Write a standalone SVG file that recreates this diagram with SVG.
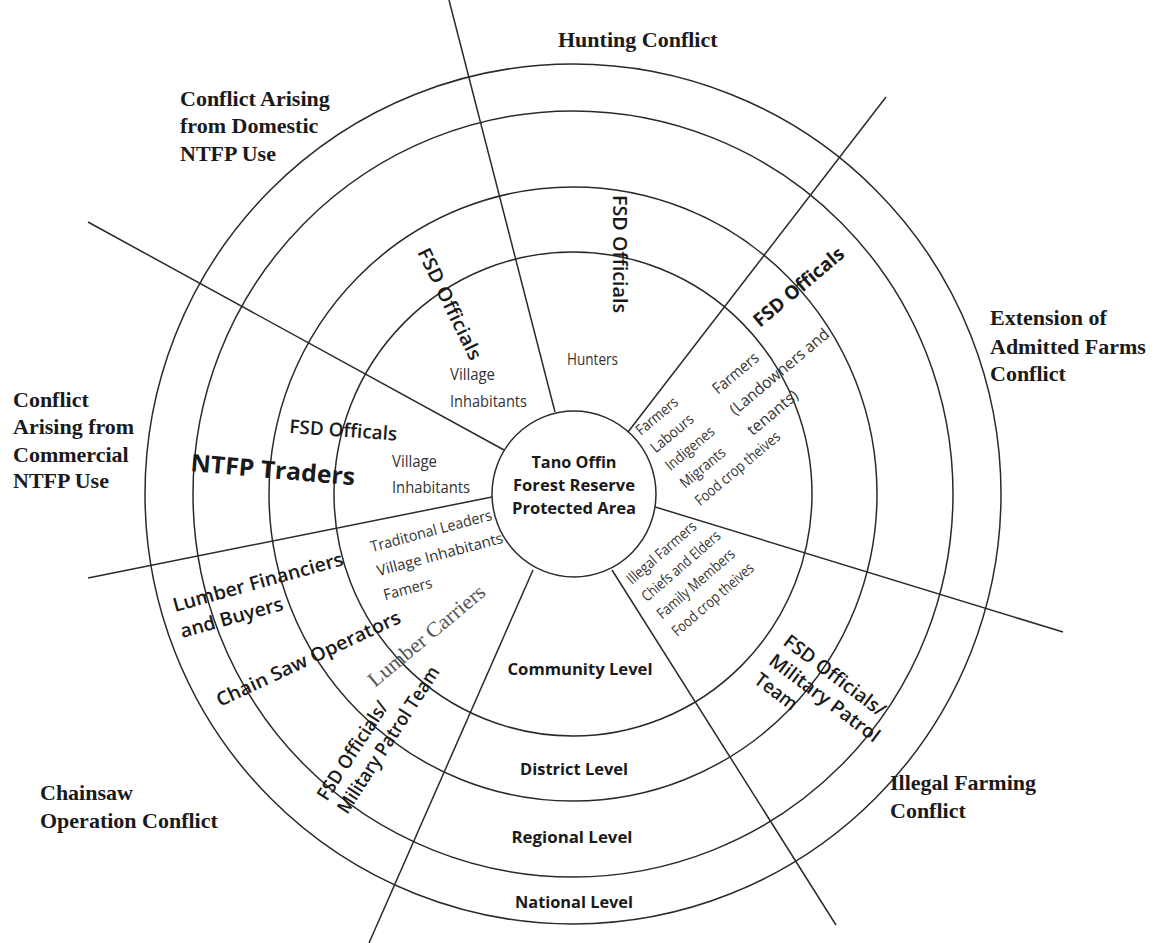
<svg xmlns="http://www.w3.org/2000/svg" width="1154" height="943" viewBox="0 0 1154 943">
<style>
.ring{fill:none;stroke:#2a2a2a;stroke-width:1.5}
.ln{stroke:#2a2a2a;stroke-width:1.5;fill:none}
.o{font-family:"Liberation Serif",serif;font-weight:bold;font-size:22px;fill:#1a1a1a}
.lv{font-family:"Open Sans",sans-serif;font-weight:bold;font-size:16px;fill:#1a1a1a;text-anchor:middle}
.s{font-family:"Open Sans",sans-serif;font-size:15px;fill:#333}
.s2{font-family:"Open Sans",sans-serif;font-size:16px;fill:#333}
.m{font-family:"Open Sans",sans-serif;font-weight:600;font-size:19px;fill:#1a1a1a}
.bb{font-family:"Open Sans",sans-serif;font-weight:bold;font-size:19px;fill:#1a1a1a}
.big{font-family:"Open Sans",sans-serif;font-weight:bold;font-size:24px;fill:#1a1a1a}
.sr{font-family:"Liberation Serif",serif;font-size:21px;fill:#555}
</style>
<rect width="1154" height="943" fill="#ffffff"/>
<g id="rings">
<ellipse class="ring" cx="573" cy="494" rx="428" ry="430"/>
<ellipse class="ring" cx="573" cy="494" rx="380" ry="383"/>
<ellipse class="ring" cx="573" cy="494" rx="304" ry="307"/>
<ellipse class="ring" cx="573" cy="494" rx="239" ry="242"/>
</g>
<g id="connectors">
<line class="ln" x1="555" y1="412" x2="449" y2="0"/>
<line class="ln" x1="628" y1="432" x2="886" y2="97"/>
<line class="ln" x1="652" y1="506" x2="1063" y2="632"/>
<line class="ln" x1="612" y1="570" x2="836" y2="925"/>
<line class="ln" x1="533" y1="570" x2="369" y2="943"/>
<line class="ln" x1="492" y1="497" x2="88" y2="578"/>
<line class="ln" x1="504" y1="450" x2="88" y2="222"/>
</g>
<g id="center">
<ellipse cx="574" cy="494" rx="82" ry="83" fill="#fff" stroke="#2a2a2a" stroke-width="1.5"/>
<text class="lv" x="574" y="468" textLength="85" lengthAdjust="spacingAndGlyphs">Tano Offin</text>
<text class="lv" x="574" y="491" textLength="122" lengthAdjust="spacingAndGlyphs">Forest Reserve</text>
<text class="lv" x="574" y="514" textLength="124" lengthAdjust="spacingAndGlyphs">Protected Area</text>
</g>
<g id="levels">
<text class="lv" x="580" y="675" textLength="145" lengthAdjust="spacingAndGlyphs">Community Level</text>
<text class="lv" x="574" y="775" textLength="108" lengthAdjust="spacingAndGlyphs">District Level</text>
<text class="lv" x="572" y="843" textLength="121" lengthAdjust="spacingAndGlyphs">Regional Level</text>
<text class="lv" x="574" y="908" textLength="118" lengthAdjust="spacingAndGlyphs">National Level</text>
</g>
<g id="hunting">
<text class="o" x="558" y="47">Hunting Conflict</text>
<text class="m" transform="translate(613,195) rotate(90)" textLength="118" lengthAdjust="spacingAndGlyphs">FSD Officials</text>
<text class="s2" x="567" y="365" textLength="51" lengthAdjust="spacingAndGlyphs">Hunters</text>
</g>
<g id="domestic">
<text class="o" x="180" y="106">Conflict Arising</text>
<text class="o" x="180" y="133">from Domestic</text>
<text class="o" x="180" y="161">NTFP Use</text>
<text class="m" transform="translate(417,252) rotate(64)" textLength="122" lengthAdjust="spacingAndGlyphs">FSD Officials</text>
<text class="s2" x="450" y="380" textLength="45" lengthAdjust="spacingAndGlyphs">Village</text>
<text class="s2" x="450" y="407" textLength="77" lengthAdjust="spacingAndGlyphs">Inhabitants</text>
</g>
<g id="extension">
<text class="o" x="990" y="325">Extension of</text>
<text class="o" x="990" y="354">Admitted Farms</text>
<text class="o" x="990" y="381">Conflict</text>
<text class="bb" transform="translate(760,328) rotate(-40)" textLength="112" lengthAdjust="spacingAndGlyphs">FSD Officals</text>
<g transform="translate(718,395) rotate(-40)">
<text class="s2" x="0" y="0" textLength="55" lengthAdjust="spacingAndGlyphs">Farmers</text>
<text class="s2" x="0" y="27" textLength="124" lengthAdjust="spacingAndGlyphs">(Landowners and</text>
<text class="s2" x="0" y="54" textLength="61" lengthAdjust="spacingAndGlyphs">tenants)</text>
</g>
<g transform="translate(641,436) rotate(-40)">
<text class="s" x="0" y="0" textLength="50" lengthAdjust="spacingAndGlyphs">Farmers</text>
<text class="s" x="0" y="23" textLength="51" lengthAdjust="spacingAndGlyphs">Labours</text>
<text class="s" x="0" y="46" textLength="59" lengthAdjust="spacingAndGlyphs">Indigenes</text>
<text class="s" x="0" y="69" textLength="54" lengthAdjust="spacingAndGlyphs">Migrants</text>
<text class="s" x="0" y="92" textLength="106" lengthAdjust="spacingAndGlyphs">Food crop theives</text>
</g>
</g>
<g id="illegal">
<text class="o" x="890" y="790">Illegal Farming</text>
<text class="o" x="890" y="818">Conflict</text>
<g transform="translate(632,585) rotate(-41)">
<text class="s" x="0" y="0" textLength="87" lengthAdjust="spacingAndGlyphs">Illegal Farmers</text>
<text class="s" x="0" y="23" textLength="99" lengthAdjust="spacingAndGlyphs">Chiefs and Elders</text>
<text class="s" x="0" y="46" textLength="98" lengthAdjust="spacingAndGlyphs">Family Members</text>
<text class="s" x="0" y="69" textLength="103" lengthAdjust="spacingAndGlyphs">Food crop theives</text>
</g>
<g transform="translate(782,644) rotate(37)">
<text class="m" x="0" y="0" textLength="122" lengthAdjust="spacingAndGlyphs">FSD Officials/</text>
<text class="m" x="0" y="24" textLength="133" lengthAdjust="spacingAndGlyphs">Military Patrol</text>
<text class="m" x="0" y="48" textLength="48" lengthAdjust="spacingAndGlyphs">Team</text>
</g>
</g>
<g id="chainsaw">
<text class="o" x="40" y="800">Chainsaw</text>
<text class="o" x="40" y="828">Operation Conflict</text>
<g transform="translate(372,552) rotate(-15)">
<text class="s" x="0" y="0" textLength="125" lengthAdjust="spacingAndGlyphs">Traditonal Leaders</text>
<text class="s" x="0" y="25" textLength="130" lengthAdjust="spacingAndGlyphs">Village Inhabitants</text>
<text class="s" x="0" y="50" textLength="50" lengthAdjust="spacingAndGlyphs">Famers</text>
</g>
<text class="sr" transform="translate(375,688) rotate(-40)" textLength="146" lengthAdjust="spacingAndGlyphs">Lumber Carriers</text>
<g transform="translate(175,612) rotate(-15.5)">
<text class="m" x="0" y="0" textLength="176" lengthAdjust="spacingAndGlyphs">Lumber Financiers</text>
<text class="m" x="0" y="27" textLength="106" lengthAdjust="spacingAndGlyphs">and Buyers</text>
</g>
<text class="m" transform="translate(220,707) rotate(-25)" textLength="201" lengthAdjust="spacingAndGlyphs">Chain Saw Operators</text>
<g transform="translate(327,802) rotate(-57)">
<text class="m" x="0" y="0" textLength="114" lengthAdjust="spacingAndGlyphs">FSD Officials/</text>
<text class="m" x="0" y="24" textLength="171" lengthAdjust="spacingAndGlyphs">Military Patrol Team</text>
</g>
</g>
<g id="commercial">
<text class="o" x="13" y="407">Conflict</text>
<text class="o" x="13" y="434">Arising from</text>
<text class="o" x="13" y="462">Commercial</text>
<text class="o" x="13" y="488">NTFP Use</text>
<text class="m" transform="translate(289,433) rotate(4)" textLength="108" lengthAdjust="spacingAndGlyphs">FSD Officals</text>
<text class="big" transform="translate(190,471) rotate(5)" textLength="165" lengthAdjust="spacingAndGlyphs">NTFP Traders</text>
<text class="s2" x="392" y="467" textLength="45" lengthAdjust="spacingAndGlyphs">Village</text>
<text class="s2" x="392" y="493" textLength="78" lengthAdjust="spacingAndGlyphs">Inhabitants</text>
</g>
</svg>
